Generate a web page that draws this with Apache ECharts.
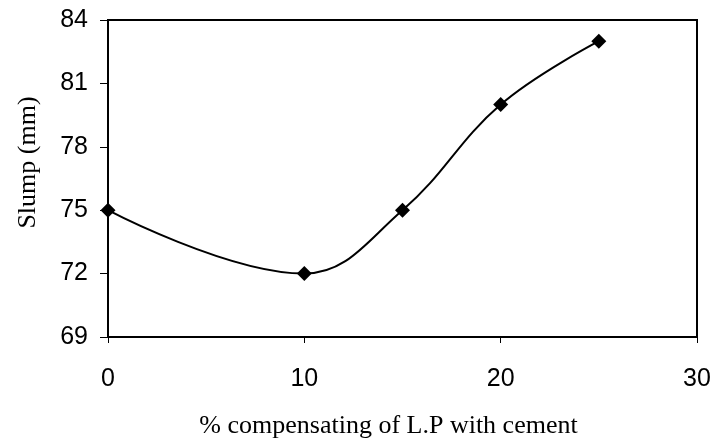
<!DOCTYPE html>
<html><head><meta charset="utf-8">
<script src="https://cdn.jsdelivr.net/npm/echarts@6/dist/echarts.min.js"></script>
<style>html,body{margin:0;padding:0;background:#fff}#c{width:713px;height:443px}</style>
</head><body><div id="c"></div>
<script>
const xValues = [0, 10, 15, 20, 25];
const slump = [75, 72, 75, 80, 83];
const xTicks = [0, 10, 20, 30];
const yTicks = [69, 72, 75, 78, 81, 84];
const xTitle = '% compensating of L.P with cement';
const yTitle = 'Slump (mm)';

const chart = echarts.init(document.getElementById('c'), null, {renderer: 'canvas'});
chart.setOption({
  animation: false,
  backgroundColor: '#fff',
  grid: {left: 108, top: 20, right: 16, bottom: 106, outerBoundsMode: 'none', containLabel: false, show: true, borderColor: '#000', borderWidth: 2, backgroundColor: 'transparent'},
  xAxis: {
    type: 'value', min: xTicks[0], max: xTicks[xTicks.length-1], interval: 10,
    name: xTitle, nameLocation: 'middle', nameGap: 76,
    nameTextStyle: {fontFamily: 'Liberation Serif', fontSize: 26, color: '#000', padding: [0, 28, 0, 0]},
    axisLine: {show: true, onZero: false, lineStyle: {color: '#000', width: 2}},
    axisTick: {show: true, length: 6, lineStyle: {color: '#000', width: 1}},
    axisLabel: {fontFamily: 'Liberation Sans', fontSize: 25, color: '#000', margin: 30},
    splitLine: {show: false}
  },
  yAxis: {
    type: 'value', min: yTicks[0], max: yTicks[yTicks.length-1], interval: 3,
    name: yTitle, nameLocation: 'middle', nameGap: 67, nameRotate: 90,
    nameTextStyle: {fontFamily: 'Liberation Serif', fontSize: 26, color: '#000', padding: [0, 0, 0, 32]},
    axisLine: {show: true, lineStyle: {color: '#000', width: 2}},
    axisTick: {show: true, length: 8, lineStyle: {color: '#000', width: 1}},
    axisLabel: {fontFamily: 'Liberation Sans', fontSize: 25, color: '#000', margin: 20},
    splitLine: {show: false}
  },
  series: [{
    type: 'line',
    data: xValues.map((x, i) => [x, slump[i]]),
    smooth: 0.4,
    symbol: 'diamond', symbolSize: 15,
    itemStyle: {color: '#000'},
    lineStyle: {color: '#000', width: 2}
  }]
});
</script></body></html>
